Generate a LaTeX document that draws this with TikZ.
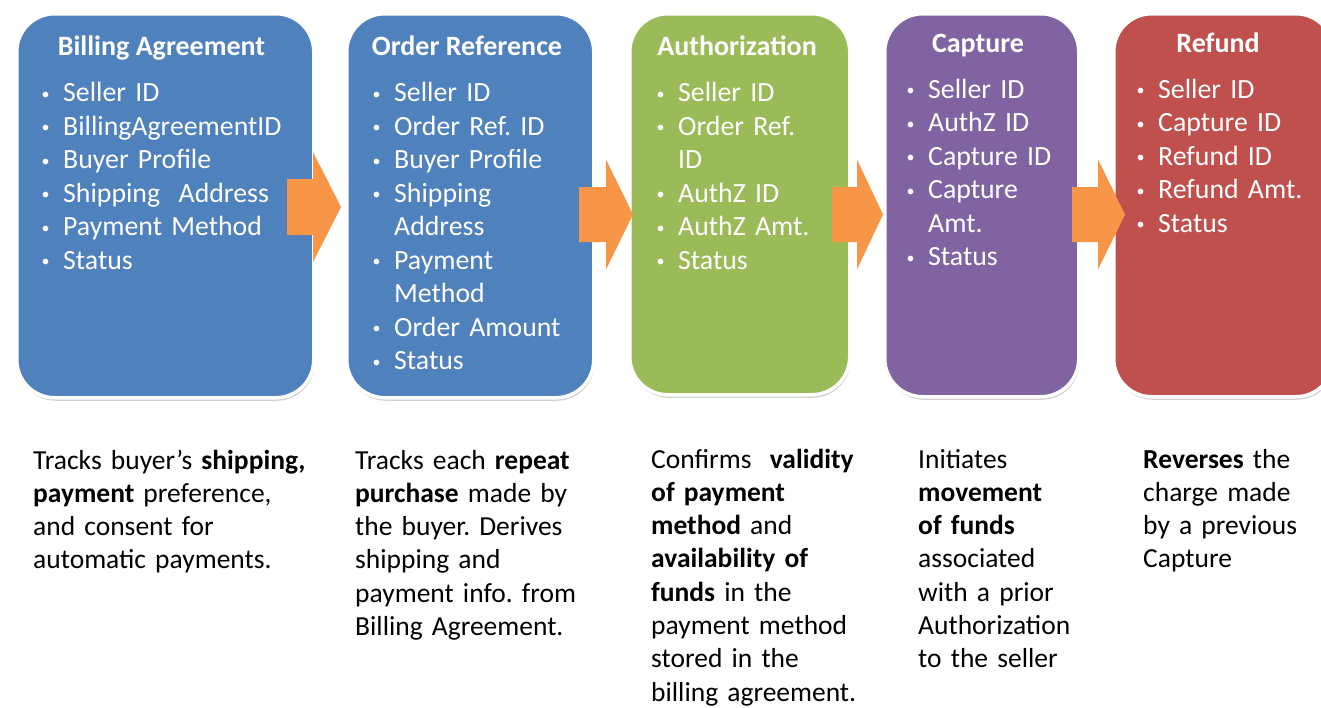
\documentclass[tikz,border=0pt]{standalone}
\usepackage{fontspec}
\setmainfont{Carlito}
\usetikzlibrary{shadows}
\definecolor{cblue}{RGB}{79,129,189}
\definecolor{cgreen}{RGB}{155,187,89}
\definecolor{cpurple}{RGB}{128,100,162}
\definecolor{cred}{RGB}{192,80,77}
\definecolor{corange}{RGB}{247,150,70}
\newcommand{\bl}{\makebox[24pt][l]{\makebox[13pt]{\fontsize{16}{16}\selectfont\raisebox{2.5pt}{•}}}}
\newcommand{\nb}{\hspace*{24pt}}
\frenchspacing
\tikzset{
  card/.style={draw=white, line width=3.5pt, rounded corners=38pt, anchor=north west, inner sep=0,
    drop shadow={shadow xshift=1pt, shadow yshift=-3pt, opacity=0.3, fill=black!60}},
  ctitle/.style={anchor=base, text=white, inner sep=0, font=\bfseries\fontsize{28}{33.5}\selectfont},
  clist/.style={anchor=base west, text=white, inner sep=0, text width=300pt, align=left, font=\fontsize{27.8}{33.5}\selectfont},
  desc/.style={anchor=base west, text=black, inner sep=0, text width=320pt, align=left, font=\fontsize{27.5}{33.3}\selectfont},
  barrow/.style={fill=corange}
}
\newcommand{\blockarrow}[7]{% name, x0, xb, xt, yc, body half, head half
  \fill[barrow] (#2,#5-#6) -- (#3,#5-#6) -- (#3,#5-#7) -- (#4,#5) -- (#3,#5+#7) -- (#3,#5+#6) -- (#2,#5+#6) -- cycle;
  \coordinate (#1) at (#4,#5);}
\begin{document}
\begin{tikzpicture}[x=1pt,y=-1pt]
\useasboundingbox (0,0) rectangle (1321,707);
\clip (0,0) rectangle (1321,707);
% cards
\node[card, fill=cblue,   minimum width=297pt, minimum height=384pt] (b1) at (15,12) {};
\node[card, fill=cblue,   minimum width=247pt, minimum height=384pt] (b2) at (345,12) {};
\node[card, fill=cgreen,  minimum width=220pt, minimum height=381pt] (b3) at (628,12) {};
\node[card, fill=cpurple, minimum width=194pt, minimum height=383pt] (b4) at (883,12) {};
\node[card, fill=cred,    minimum width=220pt, minimum height=383pt] (b5) at (1112,12) {};
% titles
\node[ctitle] (t1) at (161.5,55) {Billing\ Agreement};
\node[ctitle] (t2) at (467,55) {Order Reference};
\node[ctitle] (t3) at (737,55) {Authorization};
\node[ctitle] (t4) at (978,52) {Capture};
\node[ctitle] (t5) at (1218,52) {Refund};
% lists
\node[clist] (l1) at (63-24,101.7) {\bl Seller ID\\ \bl BillingAgreementID\\ \bl Buyer Profile\\ \bl Shipping\ \ Address\\ \bl Payment Method\\ \bl Status};
\node[clist] (l2) at (394-24,101.7) {\bl Seller ID\\ \bl Order Ref. ID\\ \bl Buyer Profile\\ \bl Shipping\\ \nb Address\\ \bl Payment\\ \nb Method\\ \bl Order Amount\\ \bl Status};
\node[clist] (l3) at (678-24,101.7) {\bl Seller ID\\ \bl Order Ref.\\ \nb ID\\ \bl AuthZ ID\\ \bl AuthZ Amt.\\ \bl Status};
\node[clist] (l4) at (928-24,98) {\bl Seller ID\\ \bl AuthZ ID\\ \bl Capture ID\\ \bl Capture\\ \nb Amt.\\ \bl Status};
\node[clist] (l5) at (1158-24,98) {\bl Seller ID\\ \bl Capture ID\\ \bl Refund ID\\ \bl Refund Amt.\\ \bl Status};
% arrows
\blockarrow{a1}{287}{313}{341}{207}{28}{55}
\blockarrow{a2}{579}{606}{633}{214.5}{27.5}{55}
\blockarrow{a3}{832}{857}{883}{214.5}{27.5}{55}
\blockarrow{a4}{1072}{1098}{1125}{214.5}{27.5}{55}
% descriptions
\node[desc] (d1) at (33,469) {Tracks buyer’s \textbf{shipping,}\\ \textbf{payment} preference,\\ and consent\ for\\ automatic payments.};
\node[desc] (d2) at (355,469) {Tracks each \textbf{repeat}\\ \textbf{purchase} made by\\ the buyer. Derives\\ shipping\ and\\ payment info. from\\ Billing Agreement.};
\node[desc] (d3) at (651,468) {Confirms\ \ \textbf{validity}\\ \textbf{of payment}\\ \textbf{method} and\\ \textbf{availability of}\\ \textbf{funds} in the\\ payment method\\ stored in the\\ billing\ agreement.};
\node[desc] (d4) at (918,468) {Initiates\\ \textbf{movement}\\ \textbf{of funds}\\ associated\\ with a prior\\ Authorization\\ to the seller};
\node[desc] (d5) at (1143,468) {\textbf{Reverses} the\\ charge made\\ by a previous\\ Capture};
\end{tikzpicture}
\end{document}
